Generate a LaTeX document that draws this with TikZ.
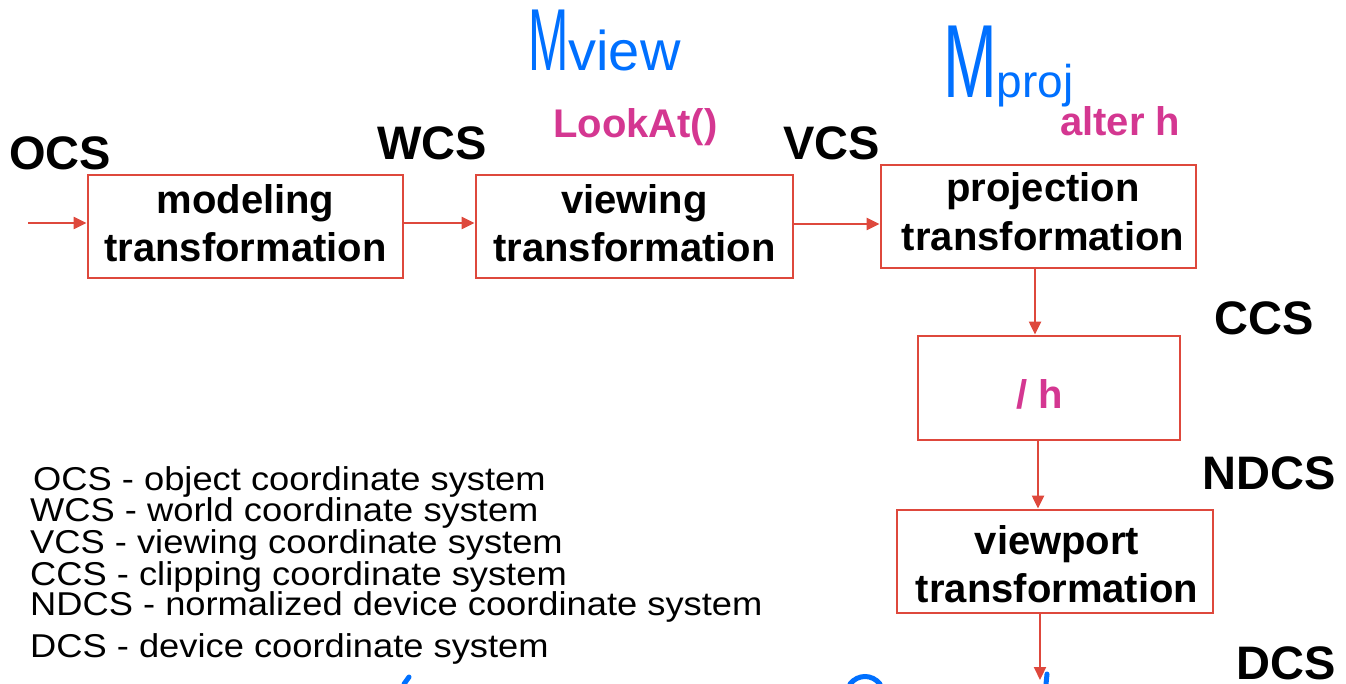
\documentclass[tikz,border=0pt]{standalone}
\usepackage{fontspec}
\setmainfont{Liberation Sans}
\usetikzlibrary{arrows.meta}
\definecolor{boxred}{RGB}{222,72,60}
\definecolor{lookpink}{RGB}{212,55,145}
\definecolor{inkblue}{RGB}{0,112,255}
\newcommand{\wideleg}[1]{\scalebox{1.1}[1]{#1}}
\begin{document}
\begin{tikzpicture}[x=1pt,y=-1pt,
  stagebox/.style={draw=boxred,line width=2.8pt,minimum width=#1,minimum height=103pt,inner sep=0pt},
  boxtext/.style={font=\fontsize{40}{46}\selectfont\bfseries,anchor=base,inner sep=0pt},
  cslabel/.style={font=\fontsize{47}{50}\selectfont\bfseries,anchor=base west,inner sep=0pt},
  pinktext/.style={font=\fontsize{40}{46}\selectfont\bfseries,text=lookpink,anchor=base west,inner sep=0pt},
  legend/.style={font=\fontsize{33}{33}\selectfont,anchor=base west,inner sep=0pt},
  flow/.style={draw=boxred,line width=2.2pt,-{Triangle[length=13pt,width=12pt]}},
  ink/.style={text=inkblue,inner sep=0pt,anchor=base west},
  inkline/.style={draw=inkblue,line width=5pt,line cap=round}]
\useasboundingbox (0,0) rectangle (1346,684);
% boxes
\node[stagebox=315pt] (m) at (245.5,226.5) {};
\node[stagebox=317pt] (v) at (634.5,226.5) {};
\node[stagebox=315pt] (p) at (1038.5,216.5) {};
\node[stagebox=262pt,minimum height=104pt] (h) at (1049,388) {};
\node[stagebox=316pt] (vp) at (1055,561.5) {};
% box texts
\node[boxtext] (m1) at (245.5,214) {modeling};
\node[boxtext] (m2) at (245.5,262) {transformation};
\node[boxtext] (v1) at (634.5,214) {viewing};
\node[boxtext] (v2) at (634.5,262) {transformation};
\node[boxtext] (p1) at (1043,202) {projection};
\node[boxtext] (p2) at (1043,251) {transformation};
\node[boxtext,text=lookpink] (h1) at (1040,408) {/ h};
\node[boxtext] (vp1) at (1057,554) {viewport};
\node[boxtext] (vp2) at (1057,602) {transformation};
% coordinates for connectors
\coordinate (in) at (28,223);
\coordinate (ya) at (0,223);
\coordinate (yb) at (0,224);
\coordinate (xa) at (1035,0);
\coordinate (xb) at (1038,0);
\coordinate (xc) at (1040,0);
\coordinate (out) at (1040,680);
% connectors
\draw[flow] (in) -- (in -| m.west);
\draw[flow] (m.east |- ya) -- (v.west |- ya);
\draw[flow] (v.east |- yb) -- (p.west |- yb);
\draw[flow] (xa |- p.south) -- (xa |- h.north);
\draw[flow] (xb |- h.south) -- (xb |- vp.north);
\draw[flow] (xc |- vp.south) -- (out);
% coordinate system labels
\node[cslabel] (ocs) at (9,170) {OCS};
\node[cslabel] (wcs) at (377,160) {WCS};
\node[cslabel] (vcs) at (783,160) {VCS};
\node[cslabel] (ccs) at (1214,335) {CCS};
\node[cslabel] (ndcs) at (1202,489) {NDCS};
\node[cslabel] (dcs) at (1236,679) {DCS};
% pink annotations
\node[pinktext] (look) at (553,138) {LookAt()};
\node[pinktext] (alter) at (1060,136) {alter h};
% handwritten annotations
\node[ink,font=\fontsize{88}{88}\selectfont] (mv) at (528,71) {\scalebox{0.55}[1]{M}\fontsize{56}{56}\selectfont view};
\node[ink,font=\fontsize{104}{104}\selectfont] (mp) at (943,98) {\scalebox{0.62}[1]{M}\fontsize{46}{46}\selectfont proj};
\draw[inkline] (404,684) -- (409,677);
\draw[inkline] (850,684) .. controls (858,674) and (872,674) .. (880,684);
\draw[inkline] (1046,684) -- (1047,674);
% legend
\node[legend] (l1) at (33,490) {\wideleg{OCS - object coordinate system}};
\node[legend] (l2) at (30,521) {\wideleg{WCS - world coordinate system}};
\node[legend] (l3) at (30,553) {\wideleg{VCS - viewing coordinate system}};
\node[legend] (l4) at (30,585) {\wideleg{CCS - clipping coordinate system}};
\node[legend] (l5) at (30,615) {\wideleg{NDCS - normalized device coordinate system}};
\node[legend] (l6) at (30,657) {\wideleg{DCS - device coordinate system}};
\end{tikzpicture}
\end{document}
